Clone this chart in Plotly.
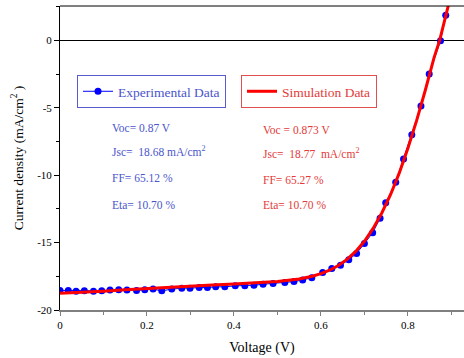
import plotly.graph_objects as go

# Experimental data (blue points)
exp_v = [0.0, 0.019, 0.037, 0.056, 0.077, 0.096, 0.115, 0.135, 0.154, 0.176, 0.195,
         0.214, 0.234, 0.257, 0.280, 0.299, 0.320, 0.339, 0.358, 0.379, 0.403, 0.425,
         0.446, 0.467, 0.490, 0.517, 0.538, 0.558, 0.579, 0.604, 0.625, 0.645, 0.664,
         0.682, 0.700, 0.719, 0.736, 0.749, 0.772, 0.790, 0.809, 0.830, 0.849, 0.875, 0.887]
exp_j = [-18.55, -18.55, -18.6, -18.58, -18.6, -18.58, -18.52, -18.5, -18.52, -18.55, -18.5,
         -18.45, -18.58, -18.45, -18.38, -18.38, -18.33, -18.33, -18.28, -18.28, -18.21, -18.21,
         -18.16, -18.09, -18.03, -17.96, -17.89, -17.77, -17.6, -17.22, -16.93, -16.68, -16.28,
         -15.8, -15.07, -14.27, -13.19, -12.05, -10.52, -8.8, -7.0, -4.86, -2.49, -0.03, 1.87]

# Simulation data (red line)
sim_v = [0.0, 0.05, 0.1, 0.15, 0.2, 0.25, 0.3, 0.35, 0.4, 0.45, 0.5, 0.55, 0.58, 0.6,
         0.62, 0.64, 0.66, 0.68, 0.7, 0.72, 0.74, 0.76, 0.78, 0.8, 0.82, 0.84, 0.86,
         0.873, 0.88, 0.9]
sim_j = [-18.75, -18.7, -18.6, -18.5, -18.4, -18.3, -18.22, -18.15, -18.07, -17.98, -17.88,
         -17.7, -17.5, -17.3, -17.05, -16.7, -16.25, -15.65, -14.9, -13.95, -12.8, -11.45,
         -9.85, -8.0, -5.95, -3.7, -1.3, 0.0, 0.9, 3.5]

x_ticks = [0, 0.2, 0.4, 0.6, 0.8]
x_tick_labels = ["0", "0.2", "0.4", "0.6", "0.8"]
y_ticks = [0, -5, -10, -15, -20]
y_tick_labels = ["0", "-5", "-10", "-15", "-20"]

exp_params = ["Voc= 0.87 V", "Jsc=  18.68 mA/cm<sup>2</sup>", "FF= 65.12 %", "Eta= 10.70 %"]
sim_params = ["Voc = 0.873 V", "Jsc=  18.77  mA/cm<sup>2</sup>", "FF= 65.27 %", "Eta= 10.70 %"]

SERIF = "Liberation Serif"
BLUE_TXT = "#4a55cc"
RED_TXT = "#e43a3a"

fig = go.Figure()
fig.add_trace(go.Scatter(
    x=exp_v, y=exp_j, mode="lines+markers", name="Experimental Data",
    line=dict(color="#0000ff", width=1),
    marker=dict(color="#0000ff", size=7, symbol="circle"),
    legend="legend"))
fig.add_trace(go.Scatter(
    x=sim_v, y=sim_j, mode="lines", name="Simulation Data",
    line=dict(color="#ff0000", width=3),
    legend="legend2"))

ann = []
ys_px = [128, 151, 178, 205]
for i, t in enumerate(exp_params):
    ann.append(dict(text=t, x=(110 - 60) / 404, y=(310 - ys_px[i]) / 304, xref="paper", yref="paper",
                    xanchor="left", yanchor="middle", showarrow=False,
                    font=dict(family=SERIF, size=11.5, color=BLUE_TXT)))
ys_px2 = [130, 153, 180, 205]
for i, t in enumerate(sim_params):
    ann.append(dict(text=t, x=(261 - 60) / 404, y=(310 - ys_px2[i]) / 304, xref="paper", yref="paper",
                    xanchor="left", yanchor="middle", showarrow=False,
                    font=dict(family=SERIF, size=11.5, color=RED_TXT)))

fig.update_layout(
    width=464, height=358,
    margin=dict(l=60, r=0, t=6, b=48),
    paper_bgcolor="white", plot_bgcolor="white",
    font=dict(family=SERIF, size=11, color="black"),
    showlegend=True,
    legend=dict(x=(77 - 60) / 404, y=(310 - 75) / 304, xanchor="left", yanchor="top",
                bordercolor="#5a5ad0", borderwidth=1, bgcolor="white",
                font=dict(family=SERIF, size=13.5, color=BLUE_TXT),
                itemwidth=30, tracegroupgap=0),
    legend2=dict(x=(241 - 60) / 404, y=(310 - 75) / 304, xanchor="left", yanchor="top",
                 bordercolor="#e05050", borderwidth=1, bgcolor="white",
                 font=dict(family=SERIF, size=13.5, color=RED_TXT),
                 itemwidth=30, tracegroupgap=0),
    xaxis=dict(range=[0, 0.929], tickvals=x_ticks, ticktext=x_tick_labels, automargin=False,
               showgrid=False, zeroline=False, showline=True, linecolor="#808080", linewidth=2,
               ticks="outside", ticklen=4, tickcolor="#808080", tickwidth=1,
               minor=dict(ticks="outside", ticklen=3, dtick=0.1, tickcolor="#808080"),
               tickfont=dict(family=SERIF, size=11),
               title=dict(text="Voltage (V)", font=dict(family=SERIF, size=14), standoff=12)),
    yaxis=dict(range=[-20, 2.55], tickvals=y_ticks, ticktext=y_tick_labels, automargin=False,
               showgrid=False, zeroline=True, zerolinecolor="black", zerolinewidth=1,
               showline=True, linecolor="black", linewidth=1,
               ticks="outside", ticklen=5, tickcolor="black",
               minor=dict(ticks="outside", ticklen=3, dtick=2.5, tickcolor="black"),
               tickfont=dict(family=SERIF, size=11),
               title=dict(text="Current density (mA/cm<sup>2</sup> )", font=dict(family=SERIF, size=13.5),
                          standoff=10)),
    annotations=ann,
    shapes=[dict(type="line", xref="paper", yref="paper", x0=0, x1=1, y0=1, y1=1,
                 line=dict(color="black", width=1))],
)

fig.write_html("out.html", config={"displayModeBar": False},
               post_script="document.body.style.margin='0';document.body.style.padding='0';")
